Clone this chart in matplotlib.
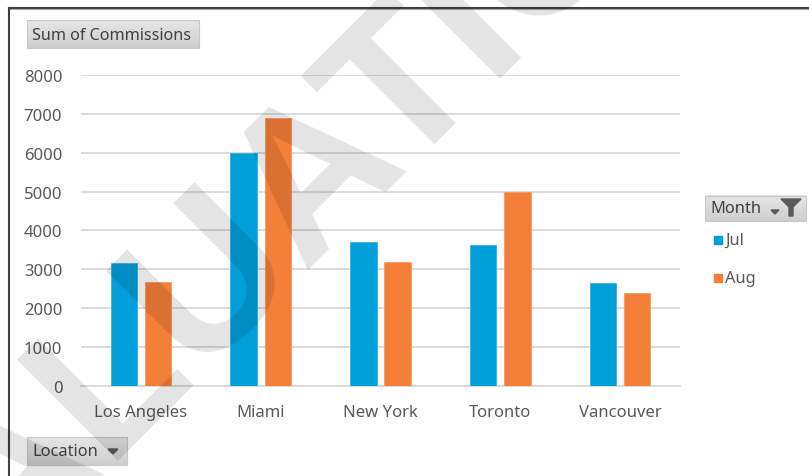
import matplotlib
matplotlib.use("Agg")
import matplotlib.pyplot as plt
import numpy as np
from matplotlib.patches import Rectangle, Polygon
from matplotlib.lines import Line2D

# Pivot-chart data: commissions by location and month
locations = ["Los Angeles", "Miami", "New York", "Toronto", "Vancouver"]
months = ["Jul", "Aug"]
jul_values = [3150, 5990, 3700, 3610, 2640]
aug_values = [2680, 6880, 3190, 5000, 2390]
y_ticks = [0, 1000, 2000, 3000, 4000, 5000, 6000, 7000, 8000]

value_field = "Sum of Commissions"
row_field = "Location"
column_field = "Month"
watermark = "EVALUATION"

BLUE = "#009FD9"
ORANGE = "#F47F38"
GRID = "#D9D9D9"
LABEL = "#595959"
BUTTON_TEXT = "#404040"

W, H = 809, 477
plt.rcParams["font.family"] = ["Noto Sans", "DejaVu Sans"]

fig = plt.figure(figsize=(W / 100, H / 100), dpi=100)
fig.patch.set_facecolor("white")

# plot area in pixel terms
left_px, right_px, top_px, bottom_px = 81, 680, 76, 386.7
ax = fig.add_axes([left_px / W, (H - bottom_px) / H,
                   (right_px - left_px) / W, (bottom_px - top_px) / H], zorder=1)

x = np.arange(len(locations))
width = 0.22
offset = 0.143
ax.bar(x - offset, jul_values, width, color=BLUE, edgecolor="#33B5E3",
       linewidth=0.6, label=months[0], zorder=3)
ax.bar(x + offset, aug_values, width, color=ORANGE, edgecolor="#F69A63",
       linewidth=0.6, label=months[1], zorder=3)

ax.set_xlim(-0.5, len(locations) - 0.5)
ax.set_ylim(0, 8000)
ax.set_yticks(y_ticks)
ax.set_yticklabels([str(v) for v in y_ticks])
ax.set_xticks(x)
ax.set_xticklabels(locations)
ax.yaxis.grid(True, color=GRID, linewidth=1.3, zorder=0)
ax.set_axisbelow(True)
for s in ["left", "right", "top"]:
    ax.spines[s].set_visible(False)
ax.spines["bottom"].set_color(GRID)
ax.spines["bottom"].set_linewidth(1.3)
ax.tick_params(axis="both", length=0, colors=LABEL, labelsize=12)
ax.tick_params(axis="y", pad=13.5)
ax.tick_params(axis="x", pad=13)
ax.patch.set_alpha(0)

# overlay in pixel coordinates for buttons, legend, frame and watermark
ov = fig.add_axes([0, 0, 1, 1], zorder=2)
ov.set_xlim(0, W)
ov.set_ylim(H, 0)
ov.axis("off")


def button(x0, y0, x1, y1):
    grad = np.linspace(0, 1, 32).reshape(-1, 1)
    top = np.array([0.90, 0.90, 0.90])
    bot = np.array([0.81, 0.81, 0.81])
    img = top + (bot - top) * grad[..., None]
    img = np.repeat(img, 2, axis=1)
    ov.imshow(img, extent=(x0, x1, y1, y0), aspect="auto", zorder=4,
              interpolation="bilinear")
    ov.add_patch(Rectangle((x0, y0), x1 - x0, y1 - y0, fill=False,
                           edgecolor="#C8C8C8", linewidth=0.8, zorder=5))


button(27, 21, 199, 49)
ov.text(32, 35.5, value_field, fontsize=11.6, color=BUTTON_TEXT,
        ha="left", va="center", zorder=6)

button(27, 438, 127, 466)
ov.text(32, 452.5, row_field, fontsize=11.8, color=BUTTON_TEXT,
        ha="left", va="center", zorder=6)
ov.add_patch(Polygon([[108, 450], [118, 450], [113, 455]], closed=True,
                     color="#595959", zorder=6))

button(705, 197, 806, 222)
ov.text(710, 209.5, column_field, fontsize=11.8, color=BUTTON_TEXT,
        ha="left", va="center", zorder=6)
ov.add_patch(Polygon([[771, 211], [779, 211], [775, 215]], closed=True,
                     color="#595959", zorder=6))
ov.add_patch(Polygon([[781, 200], [801, 200], [793, 208], [793, 217],
                      [789, 217], [789, 208]], closed=True,
                     color="#595959", zorder=6))

# legend entries
for label, color, yc in [(months[0], BLUE, 241), (months[1], ORANGE, 279)]:
    ov.add_patch(Rectangle((714, yc - 4), 8, 8, color=color, zorder=6))
    ov.text(725, yc, label, fontsize=11.8, color=LABEL, ha="left",
            va="center", zorder=6)

# chart frame (top and left edges)
ov.add_line(Line2D([9, W], [8.5, 8.5], color="#3F3F3F", linewidth=1.5, zorder=7))
ov.add_line(Line2D([9, W], [10, 10], color="#A6A6A6", linewidth=0.8, zorder=7))
ov.add_line(Line2D([9, 9], [8.5, H], color="#3F3F3F", linewidth=1.5, zorder=7))

# watermark
ov.text(281, 285, watermark, rotation=45, rotation_mode="anchor",
        ha="center", va="baseline", fontsize=150, fontweight="bold",
        family="Liberation Sans", color="black", alpha=0.11, zorder=10,
        clip_on=True)

fig.savefig("out.png", dpi=100, facecolor="white")
